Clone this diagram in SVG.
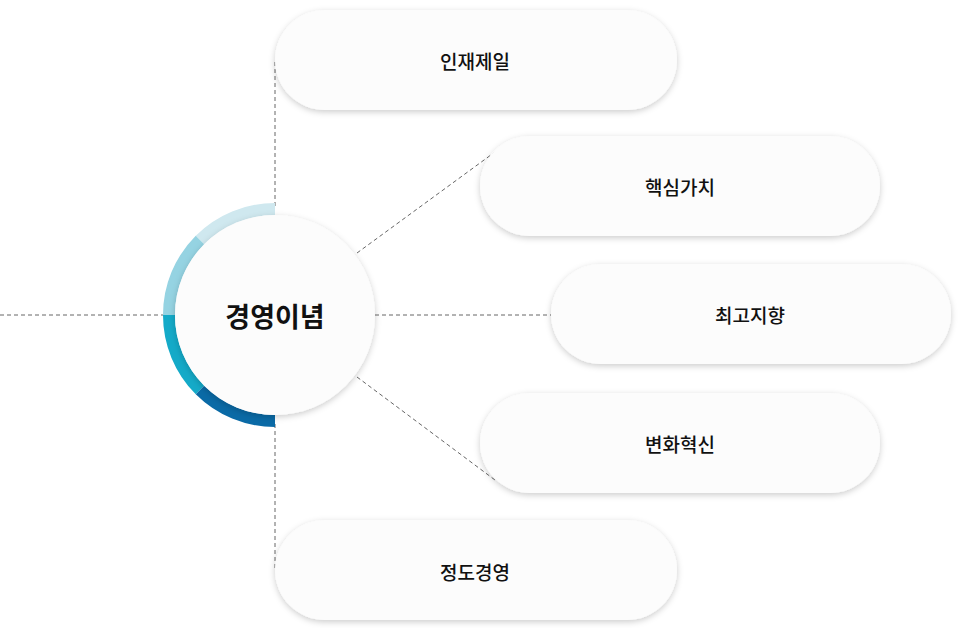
<svg xmlns="http://www.w3.org/2000/svg" width="959" height="628" viewBox="0 0 959 628">
<style>
.pill{fill:#fcfcfc;filter:url(#sh)}
.lbl{font-family:"Noto Sans CJK KR","Noto Sans",sans-serif;font-size:19px;font-weight:500;fill:#111;text-anchor:middle;dominant-baseline:central}
.c{stroke:#666;stroke-width:1;stroke-dasharray:4 3;fill:none}
.ring{fill:none;stroke-width:12}
</style>
<defs>
<filter id="sh" x="-20%" y="-20%" width="140%" height="150%"><feDropShadow dx="0" dy="2" stdDeviation="3" flood-color="#000" flood-opacity="0.2"/></filter>
</defs>
<rect width="959" height="628" fill="#fff"/>
<g id="connectors">
<line class="c" x1="275" y1="62" x2="275" y2="206"/>
<line class="c" x1="275" y1="424" x2="275" y2="568"/>
<line class="c" x1="0" y1="315" x2="163" y2="315"/>
<line class="c" x1="375" y1="315" x2="551" y2="315"/>
<line class="c" x1="357" y1="253" x2="495" y2="152"/>
<line class="c" x1="357" y1="377" x2="495" y2="480"/>
</g>
<g id="ring">
<path class="ring" stroke="#cfe8ef" d="M275,209 A106,106 0 0 0 200,240"/>
<path class="ring" stroke="#95d3e2" d="M200,240 A106,106 0 0 0 169,315"/>
<path class="ring" stroke="#14aac8" d="M169,315 A106,106 0 0 0 200,390"/>
<path class="ring" stroke="#0a6aa6" d="M200,390 A106,106 0 0 0 275,421"/>
</g>
<g id="center">
<circle cx="275" cy="315" r="100" class="pill"/>
<text x="275" y="315" class="lbl" style="font-size:27px;font-weight:700">경영이념</text>
</g>
<g id="n1"><rect x="275" y="10" width="402" height="100" rx="50" class="pill"/><text x="475" y="60" class="lbl">인재제일</text></g>
<g id="n2"><rect x="480" y="136" width="400" height="100" rx="50" class="pill"/><text x="680" y="186" class="lbl">핵심가치</text></g>
<g id="n3"><rect x="551" y="264" width="400" height="100" rx="50" class="pill"/><text x="750" y="314" class="lbl">최고지향</text></g>
<g id="n4"><rect x="480" y="393" width="400" height="100" rx="50" class="pill"/><text x="680" y="443" class="lbl">변화혁신</text></g>
<g id="n5"><rect x="275" y="520" width="402" height="100" rx="50" class="pill"/><text x="475" y="571" class="lbl">정도경영</text></g>
</svg>
